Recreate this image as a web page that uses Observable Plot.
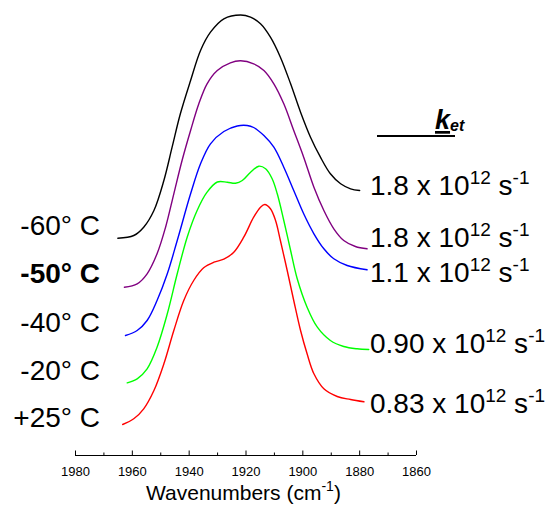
<!DOCTYPE html>
<html>
<head>
<meta charset="utf-8">
<script src="https://cdn.jsdelivr.net/npm/d3@7"></script>
<script src="https://cdn.jsdelivr.net/npm/@observablehq/plot@0.6"></script>
<style>
  html, body { margin: 0; padding: 0; background: #fff; }
  #chart { width: 552px; height: 512px; }
</style>
</head>
<body>
<div id="chart"></div>
<script>
// ---- data (offset absorbance, arbitrary units) ----
const temps = ["-60° C", "-50° C", "-40° C", "-20° C", "+25° C"];
const rates = ["1.8", "1.8", "1.1", "0.90", "0.83"];
const colors = ["#000000", "#800080", "#0000ff", "#00ff00", "#ff0000"];

const wnBlack = [1965.1,1959.5,1956.0,1952.4,1948.9,1946.0,1943.1,1939.5,1936.0,1932.5,1927.8,1921.9,1918.4,1914.9,1911.4,1907.9,1904.3,1900.8,1897.3,1893.8,1890.3,1886.7,1883.2,1880.0];
const absBlack = [2.173,2.20,2.283,2.45,2.75,3.083,3.417,3.75,4.05,4.233,4.367,4.405,4.383,4.317,4.183,3.983,3.717,3.433,3.183,2.983,2.817,2.717,2.667,2.65];

const wnPurple = [1962.8,1958.3,1954.8,1951.3,1948.3,1945.4,1942.5,1939.5,1936.6,1933.7,1930.1,1925.5,1921.9,1917.3,1913.7,1910.2,1906.7,1903.2,1899.7,1896.1,1892.6,1889.1,1885.6,1881.5,1877.4];
const absPurple = [1.683,1.717,1.817,2.017,2.283,2.617,2.95,3.25,3.517,3.717,3.85,3.927,3.947,3.917,3.85,3.717,3.517,3.25,2.983,2.683,2.45,2.267,2.15,2.09,2.067];

const wnBlue = [1962.4,1958.3,1954.8,1951.3,1947.7,1944.2,1939.5,1936.0,1932.5,1927.8,1923.1,1919.6,1917.3,1913.7,1910.2,1906.7,1903.2,1899.7,1896.1,1892.6,1889.1,1884.4,1877.4];
const absBlue = [1.20,1.25,1.35,1.55,1.817,2.15,2.617,2.917,3.117,3.24,3.295,3.30,3.28,3.20,3.083,2.883,2.65,2.417,2.217,2.067,1.967,1.90,1.857];

const wnGreen = [1961.8,1958.3,1954.8,1951.3,1947.7,1944.2,1940.7,1937.2,1933.7,1930.1,1926.6,1923.7,1921.3,1918.4,1915.5,1913.1,1910.8,1909.0,1906.7,1904.3,1902.0,1898.5,1894.9,1890.3,1885.6,1880.9,1876.8];
const absGreen = [0.727,0.767,0.867,1.083,1.417,1.817,2.183,2.45,2.633,2.735,2.733,2.723,2.75,2.833,2.893,2.867,2.767,2.617,2.35,2.05,1.77,1.483,1.283,1.15,1.09,1.067,1.06];

const wnRed = [1963.4,1959.5,1956.0,1952.4,1948.9,1945.4,1941.9,1938.4,1934.9,1931.3,1927.8,1924.3,1920.8,1917.3,1914.9,1913.4,1911.4,1909.6,1907.9,1905.5,1903.2,1900.8,1898.5,1896.1,1892.6,1887.9,1883.2,1878.5];
const absRed = [0.31,0.367,0.467,0.65,0.917,1.25,1.55,1.75,1.877,1.933,1.963,2.033,2.183,2.383,2.483,2.51,2.467,2.35,2.15,1.85,1.55,1.25,1.017,0.817,0.667,0.59,0.56,0.537];

const majorTicks = [1980, 1960, 1940, 1920, 1900, 1880, 1860];
const minorTicks = [1970, 1950, 1930, 1910, 1890, 1870];

// ---- build table ----
const seriesWn = [wnBlack, wnPurple, wnBlue, wnGreen, wnRed];
const seriesAbs = [absBlack, absPurple, absBlue, absGreen, absRed];
const rows = [];
seriesWn.forEach((wns, i) => wns.forEach((w, j) => rows.push({temp: temps[i], wn: w, a: seriesAbs[i][j]})));

const FONT = "'Liberation Sans', Arial, Helvetica, sans-serif";

const plot = Plot.plot({
  width: 552,
  height: 512,
  marginLeft: 75,
  marginRight: 136,
  marginTop: 0,
  marginBottom: 57,
  style: {fontFamily: FONT, background: "#fff", color: "#000"},
  x: {domain: [1980, 1860], axis: null},
  y: {domain: [0, 4.55], axis: null},
  color: {domain: temps, range: colors},
  marks: [
    Plot.ruleY([0], {stroke: "#000", strokeWidth: 1}),
    Plot.ruleX(majorTicks, {x: d => d, y1: 0, y2: 0.045, stroke: "#000", strokeWidth: 1}),
    Plot.ruleX(minorTicks, {x: d => d, y1: 0, y2: 0.025, stroke: "#000", strokeWidth: 1}),
    Plot.text(majorTicks, {x: d => d, y: 0, dy: 16, text: d => String(d), fontSize: 13, fill: "#000"}),
    Plot.line(rows, {x: "wn", y: "a", z: "temp", stroke: "temp", strokeWidth: 1.4, curve: "catmull-rom"})
  ]
});
document.getElementById("chart").appendChild(plot);

const svg = d3.select(plot);

// axis title with superscript
const title = svg.append("text")
  .attr("x", 146).attr("y", 500).attr("text-anchor", "start")
  .attr("font-family", FONT).attr("font-size", 21).attr("fill", "#000");
title.append("tspan").text("Wavenumbers (cm");
title.append("tspan").attr("font-size", 14).attr("dy", -9).text("-1");
title.append("tspan").attr("dy", 9).text(")");

// temperature labels (left)
const leftY = [235, 283, 332, 380, 427];
temps.forEach((t, i) => {
  svg.append("text")
    .attr("x", 100).attr("y", leftY[i])
    .attr("text-anchor", "end")
    .attr("font-family", FONT).attr("font-size", 28)
    .attr("font-weight", i === 1 ? "bold" : "normal")
    .attr("fill", "#000")
    .text(t);
});

// rate labels (right)
const rightY = [195, 247, 282, 353, 413];
rates.forEach((r, i) => {
  const t = svg.append("text")
    .attr("x", 370).attr("y", rightY[i]).attr("text-anchor", "start")
    .attr("font-family", FONT).attr("font-size", 28).attr("fill", "#000");
  t.append("tspan").text(r + " x 10");
  t.append("tspan").attr("font-size", 19).attr("dy", -11).text("12");
  t.append("tspan").attr("dy", 11).text(" s");
  t.append("tspan").attr("font-size", 19).attr("dy", -11).text("-1");
});

// k_et header
svg.append("line").attr("x1", 377).attr("x2", 455).attr("y1", 136).attr("y2", 136)
  .attr("stroke", "#000").attr("stroke-width", 2);
const k = svg.append("text").attr("x", 435).attr("y", 129).attr("text-anchor", "start")
  .attr("font-family", FONT).attr("font-weight", "bold").attr("font-style", "italic")
  .attr("fill", "#000");
k.append("tspan").attr("font-size", 27).attr("text-decoration", "underline").text("k");
k.append("tspan").attr("font-size", 16).attr("dy", 2).text("et");
</script>
</body>
</html>
